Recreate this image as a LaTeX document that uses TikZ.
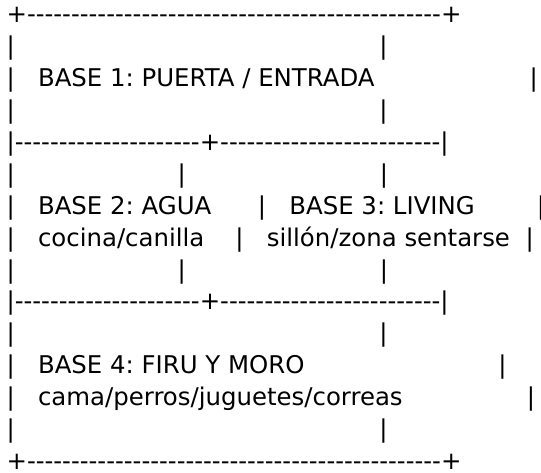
\documentclass[tikz,border=0pt]{standalone}
\usepackage{fontspec}
\newfontfamily\asciifont{DejaVu Sans}
\newcommand\gap[1]{\hskip#1\fontdimen2\font\relax}
\newcommand\dashes[1]{\foreach\d in {1,...,#1}{-}}
\frenchspacing

\begin{document}
\begin{tikzpicture}[x=0.75pt,y=-0.75pt,
  row/.style={anchor=base west,inner sep=0pt,
    font=\asciifont\fontsize{18.3}{22}\selectfont}]
  \useasboundingbox (0,0) rectangle (541,473);

  %% top of the plan
  \node[row] (row1)  at (6.3,22.8)  {+\dashes{47}+};
  \node[row] (row2)  at (6.3,54.7)  {|\gap{47}|};
  \node[row] (row3)  at (6.3,86.6)  {|\gap{3}BASE 1: PUERTA / ENTRADA\gap{20}|};
  \node[row] (row4)  at (6.3,118.5) {|\gap{47}|};
  \node[row] (row5)  at (6.3,150.4) {|\dashes{21}+\dashes{25}|};

  %% middle: agua and living
  \node[row] (row6)  at (6.3,182.3) {|\gap{21}|\gap{25}|};
  \node[row] (row7)  at (6.3,214.2) {|\gap{3}BASE 2: AGUA\gap{6}|\gap{3}BASE 3: LIVING\gap{8}|};
  \node[row] (row8)  at (6.3,246.1) {|\gap{3}cocina/canilla\gap{4}|\gap{3}sillón/zona sentarse\gap{2}|};
  \node[row] (row9)  at (6.3,278.0) {|\gap{21}|\gap{25}|};
  \node[row] (row10) at (6.3,309.9) {|\dashes{21}+\dashes{25}|};

  %% bottom: the dogs
  \node[row] (row11) at (6.3,341.8) {|\gap{47}|};
  \node[row] (row12) at (6.3,373.7) {|\gap{3}BASE 4: FIRU Y MORO\gap{25}|};
  \node[row] (row13) at (6.3,405.6) {|\gap{3}cama/perros/juguetes/correas\gap{16}|};
  \node[row] (row14) at (6.3,437.5) {|\gap{47}|};
  \node[row] (row15) at (6.3,469.4) {+\dashes{47}+};
\end{tikzpicture}
\end{document}
